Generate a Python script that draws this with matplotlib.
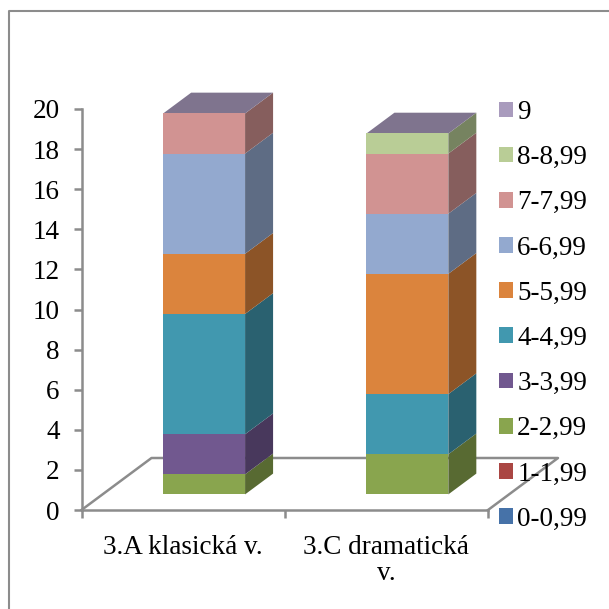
#!/usr/bin/python
import matplotlib
matplotlib.use('Agg')
import matplotlib.pyplot as plt
from matplotlib.lines import Line2D
from matplotlib.patches import Patch, Polygon
from matplotlib.colors import to_rgb

plt.rcParams['font.family'] = ['Liberation Serif', 'DejaVu Serif']

categories = ['3.A klasická v.', '3.C dramatická\nv.']
bins = ['0-0,99', '1-1,99', '2-2,99', '3-3,99', '4-4,99', '5-5,99',
        '6-6,99', '7-7,99', '8-8,99', '9']
klasicka = [0, 0, 1, 2, 6, 3, 5, 2, 0, 0]
dramaticka = [0, 0, 2, 0, 3, 6, 3, 3, 1, 0]
colors = ['#4672A8', '#AA4643', '#89A54E', '#71588F', '#4198AF',
          '#DB843D', '#93A9CF', '#D19392', '#B9CD96', '#A99BBD']
yticks = list(range(0, 21, 2))

# fake 3d: how far a full floor depth moves things, in data units
depth_x = 70 / 203.25
depth_y = 52 / 20.05
front = 0.3
back = 0.7
bar_width = 0.403


def darker(c, f):
    return tuple(v * f for v in to_rgb(c))


fig = plt.figure(figsize=(6.09, 6.09), dpi=100)
# the frame is cut off by the page on the right and at the bottom
fig.add_artist(Line2D([8.5 / 609, 8.5 / 609, 1], [0, 1 - 11 / 609, 1 - 11 / 609], transform=fig.transFigure,
                      color='#8c8c8c', linewidth=1.5))

ax = fig.add_axes([81.5 / 609, 99 / 609, 406.5 / 609, 401 / 609])
ax.set_xlim(0, 2)
ax.set_ylim(0, 20)
ax.patch.set_visible(False)

# floor
ax.plot([0, depth_x, 2 + depth_x, 2], [0, depth_y, depth_y, 0], color='#8c8c8c',
        linewidth=1.8, clip_on=False, zorder=1)

for i, values in enumerate([klasicka, dramaticka]):
    left = i + 0.5 - bar_width / 2
    right = i + 0.5 + bar_width / 2
    bottom = 0
    for value, color in zip(values, colors):
        if value > 0:
            ax.bar(i + 0.5 + front * depth_x, value, bar_width, bottom=bottom + front * depth_y,
                   color=color, linewidth=0, clip_on=False, zorder=3)
            ax.add_patch(Polygon([(right + front * depth_x, bottom + front * depth_y),
                                  (right + back * depth_x, bottom + back * depth_y),
                                  (right + back * depth_x, bottom + value + back * depth_y),
                                  (right + front * depth_x, bottom + value + front * depth_y)],
                                 facecolor=darker(color, 0.64), linewidth=0, clip_on=False, zorder=2))
        bottom += value
    # empty top series only shows as the roof of the stack
    ax.add_patch(Polygon([(left + front * depth_x, bottom + front * depth_y),
                          (right + front * depth_x, bottom + front * depth_y),
                          (right + back * depth_x, bottom + back * depth_y),
                          (left + back * depth_x, bottom + back * depth_y)],
                         facecolor=darker(colors[9], 0.75), linewidth=0, clip_on=False, zorder=2))

ax.spines['top'].set_visible(False)
ax.spines['right'].set_visible(False)
for s in ['left', 'bottom']:
    ax.spines[s].set_color('#8c8c8c')
    ax.spines[s].set_linewidth(1.8)

ax.set_yticks(yticks)
ax.set_xticks([0, 1, 2])
ax.set_xticklabels([])
ax.set_xticks([0.5, 1.5], minor=True)
ax.set_xticklabels(categories, minor=True, linespacing=1.1)
ax.tick_params(axis='both', which='major', color='#8c8c8c', width=1.8, length=5.8, labelsize=19.5, pad=10)
ax.tick_params(axis='x', which='minor', length=0, labelsize=19.5, pad=17.7)
ax.tick_params(axis='x', which='major', pad=0)

handles = [Patch(facecolor=c, linewidth=0) for c in colors[::-1]]
ax.legend(handles, bins[::-1], loc='upper left', bbox_to_anchor=(499 / 609, 1 - 100 / 609),
          bbox_transform=fig.transFigure, frameon=False, fontsize=19.5, handlelength=0.52,
          handleheight=0.52, handletextpad=0.15, labelspacing=0.745, borderpad=0, borderaxespad=0)

plt.savefig('out.png', dpi=100)
